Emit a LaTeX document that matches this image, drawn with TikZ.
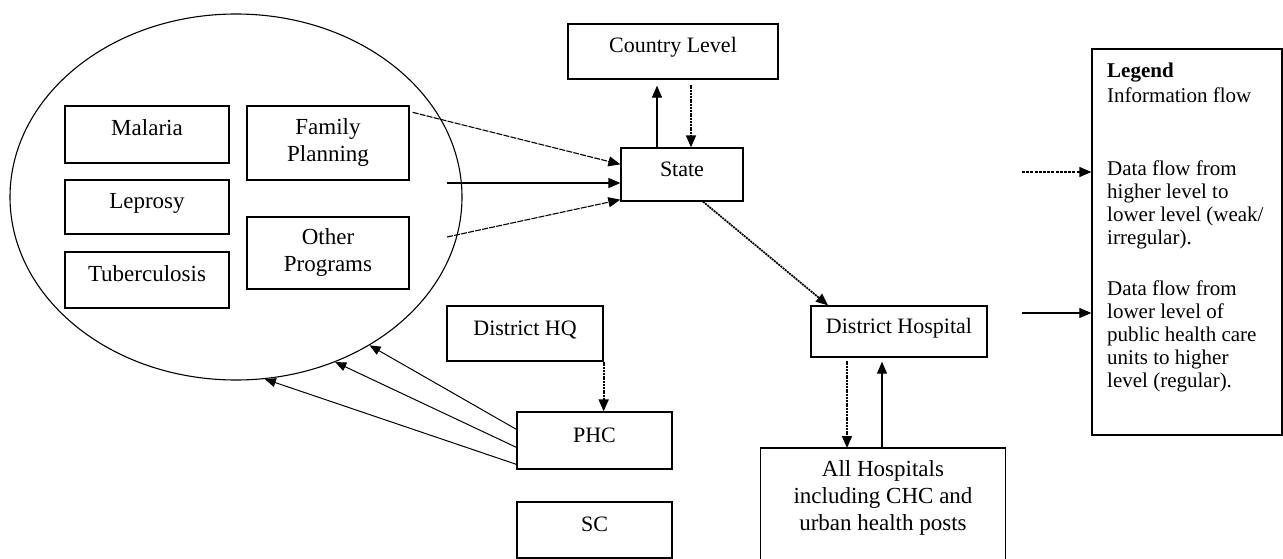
\documentclass[tikz,border=0pt]{standalone}
\usepackage{fontspec}
\setmainfont{Liberation Serif}
\usetikzlibrary{shapes.geometric,arrows.meta,calc}
\begin{document}
\begin{tikzpicture}[x=1pt,y=-1pt,
  box/.style={draw, line width=1.3pt, rectangle, inner sep=0pt, font=\fontsize{22}{25}\selectfont, align=center},
  big/.style={font=\fontsize{23}{27}\selectfont},
  one/.style={text height=14pt, text depth=11pt},
  arr/.style={-{Triangle[length=12pt,width=10pt]}, line width=1.2pt},
  arrthin/.style={-{Triangle[length=11pt,width=9pt]}, line width=1pt},
  dotl/.style={dash pattern=on 2pt off 0.8pt, line width=1.7pt},
  fdash/.style={dash pattern=on 6pt off 1.2pt, line width=1.1pt},
  ldash/.style={dash pattern=on 3pt off 1.2pt, line width=1.3pt},
]
\useasboundingbox (0,0) rectangle (1283,559);
\clip (0,0) rectangle (1283,559);

% programme ellipse
\node[draw, ellipse, line width=1.1pt, inner sep=0pt, minimum width=452, minimum height=366] (ell) at (236,197) {};

\node[box, big, one, minimum width=164, minimum height=57] (mal) at (147,134.5) {Malaria};
\node[box, big, one, minimum width=164, minimum height=54] (lep) at (147,207) {Leprosy};
\node[box, big, one, minimum width=164, minimum height=56] (tb) at (147,280) {Tuberculosis};
\node[box, big, minimum width=162, minimum height=74] (fp) at (328,143) {Family\\Planning};
\node[box, big, minimum width=162, minimum height=72] (op) at (328,253) {Other\\Programs};

\node[box, one, minimum width=210, minimum height=55] (country) at (673,51.5) {Country Level};
\node[box, one, minimum width=122, minimum height=53] (state) at (682,174.5) {State};
\node[box, one, minimum width=156, minimum height=55] (dhq) at (525,333.5) {District HQ};
\node[box, one, minimum width=155, minimum height=57] (phc) at (594.5,440.5) {PHC};
\node[box, one, minimum width=155, minimum height=56] (sc) at (594.5,530) {SC};
\node[box, one, minimum width=176, minimum height=51] (dh) at (899,331.5) {District Hospital};
\node[box, big, draw=none, anchor=north, minimum width=244, minimum height=98] (ah) at (883,448) {All Hospitals\\including CHC and\\urban health posts};
\draw[line width=1.3pt] ($(ah.south west)+(0,20)$) |- (ah.north) -| ($(ah.south east)+(0,20)$);

% legend
\node[draw, line width=1.3pt, minimum width=190, minimum height=386, inner sep=0pt] (legend) at (1187,242) {};
\node[anchor=north west, inner sep=0pt, align=left, font=\fontsize{21}{23}\selectfont] (legtext) at (1107,63)
  {\textbf{Legend}\\[2pt]Information flow\\[50pt]Data flow from\\higher level to\\lower level (weak/\\irregular).\\[28pt]Data flow from\\lower level of\\public health care\\units to higher\\level (regular).};
\coordinate (la) at (1022,172);
\coordinate (lb) at (1022,313);
\draw[arr, ldash] (la) -- (la -| legend.west);
\draw[arr] (lb) -- (lb -| legend.west);

% programmes to state
\coordinate (s2) at (447,183);
\coordinate (s3) at (447,237);
\draw[arr, fdash] ($(fp.north east)+(3,7)$) -- ($(state.north west)+(0,17)$);
\draw[arr] (s2) -- (s2 -| state.west);
\draw[arr, fdash] (s3) -- ($(state.south west)+(0,-2)$);

% state and country
\coordinate (cx1) at (657,0);
\coordinate (cx2) at (691,0);
\draw[arr] (state.north -| cx1) -- ($(country.south -| cx1)+(0,6)$);
\draw[arr, dotl] ($(country.south -| cx2)+(0,5)$) -- (state.north -| cx2);

% state to district hospital
\draw[arr, dotl] ($(state.south)+(21,0)$) -- ($(dh.north)+(-71,0)$);

% district hospital and all hospitals
\coordinate (dx1) at (847,0);
\coordinate (dx2) at (882,0);
\draw[arr, dotl] ($(dh.south -| dx1)+(0,3)$) -- (ah.north -| dx1);
\draw[arr] (ah.north -| dx2) -- ($(dh.south -| dx2)+(0,4)$);

% district HQ to PHC
\draw[arr, dotl] (dhq.south east) -- (phc.north -| dhq.south east);

% PHC to programmes
\draw[arrthin] ($(phc.north west)+(0,18)$) -- (ell.-48.5);
\draw[arrthin] ($(phc.north west)+(0,36)$) -- (ell.-59.3);
\draw[arrthin] ($(phc.north west)+(0,53)$) -- (ell.-81.6);
\end{tikzpicture}
\end{document}
